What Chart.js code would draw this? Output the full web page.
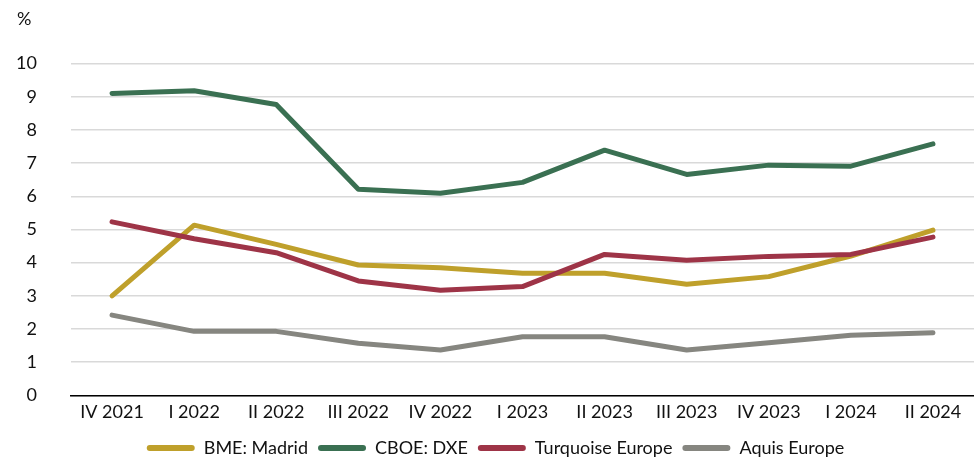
<!DOCTYPE html>
<html>
<head>
<meta charset="utf-8">
<script src="https://cdn.jsdelivr.net/npm/chart.js@4.4.1/dist/chart.umd.min.js"></script>
<style>
    html, body { margin: 0; padding: 0; background: #fff; }
    #wrap { width: 974px; height: 467px; }
</style>
</head>
<body>
<div id="wrap"><canvas id="chart"></canvas></div>
<script>
// Quarters on the x axis
const quarters = ['IV 2021', 'I 2022', 'II 2022', 'III 2022', 'IV 2022', 'I 2023',
    'II 2023', 'III 2023', 'IV 2023', 'I 2024', 'II 2024'];

// Market share, %
const bmeMadrid = [3.0, 5.13, 4.55, 3.93, 3.85, 3.68, 3.68, 3.35, 3.58, 4.2, 4.98];
const cboeDxe = [9.1, 9.18, 8.77, 6.21, 6.09, 6.42, 7.39, 6.66, 6.94, 6.91, 7.58];
const turquoise = [5.23, 4.72, 4.3, 3.45, 3.17, 3.28, 4.25, 4.07, 4.19, 4.25, 4.77];
const aquis = [2.42, 1.93, 1.93, 1.57, 1.37, 1.77, 1.77, 1.37, 1.59, 1.81, 1.89];

const seriesNames = ['BME: Madrid', 'CBOE: DXE', 'Turquoise Europe', 'Aquis Europe'];
const seriesColors = ['#bfa02b', '#3a7052', '#9e3447', '#868680'];

const FONT = 'Lato, "Open Sans", sans-serif';
const TEXT = '#111';

function makeSet(i, values) {
    return {
        label: seriesNames[i],
        data: values,
        borderColor: seriesColors[i],
        backgroundColor: seriesColors[i],
        borderWidth: 5,
        borderCapStyle: 'round',
        borderJoinStyle: 'round',
        pointRadius: 0,
        pointHoverRadius: 0,
        tension: 0,
        fill: false,
        order: 4 - i  // later series drawn on top, like the original
    };
}

new Chart(document.getElementById('chart'), {
    type: 'line',
    data: {
        labels: quarters,
        datasets: [
            makeSet(0, bmeMadrid),
            makeSet(1, cboeDxe),
            makeSet(2, turquoise),
            makeSet(3, aquis)
        ]
    },
    options: {
        responsive: true,
        maintainAspectRatio: false,
        animation: false,
        layout: { padding: { left: 17, right: 0, top: 0, bottom: 0 } },
        plugins: {
            title: {
                display: true,
                text: '%',
                align: 'start',
                color: TEXT,
                font: { family: FONT, size: 18, weight: 'normal' },
                padding: { top: 8, bottom: 34 }
            },
            legend: {
                position: 'bottom',
                labels: {
                    color: TEXT,
                    font: { family: FONT, size: 18 },
                    boxWidth: 48,
                    boxHeight: 6,
                    padding: 10,
                    generateLabels: (chart) => chart.data.datasets.map((ds, i) => ({
                        text: ds.label,
                        fillStyle: ds.borderColor,
                        strokeStyle: ds.borderColor,
                        lineWidth: 0,
                        borderRadius: 3,
                        fontColor: TEXT,
                        datasetIndex: i
                    })),
                    useBorderRadius: true
                }
            },
            tooltip: { enabled: false }
        },
        scales: {
            x: {
                offset: true,
                grid: { display: false, drawTicks: false },
                border: { display: true, color: '#000', width: 1.5 },
                ticks: {
                    color: TEXT,
                    font: { family: FONT, size: 18 },
                    padding: 6,
                    maxRotation: 0,
                    autoSkip: false
                }
            },
            y: {
                min: 0,
                max: 10,
                afterFit: (scale) => { scale.width = 54; },
                grid: { color: '#d9d9d9', lineWidth: 1.5, drawTicks: false },
                border: { display: false },
                ticks: {
                    stepSize: 1,
                    color: TEXT,
                    font: { family: FONT, size: 18 },
                    padding: 34
                }
            }
        }
    }
});
</script>
</body>
</html>
